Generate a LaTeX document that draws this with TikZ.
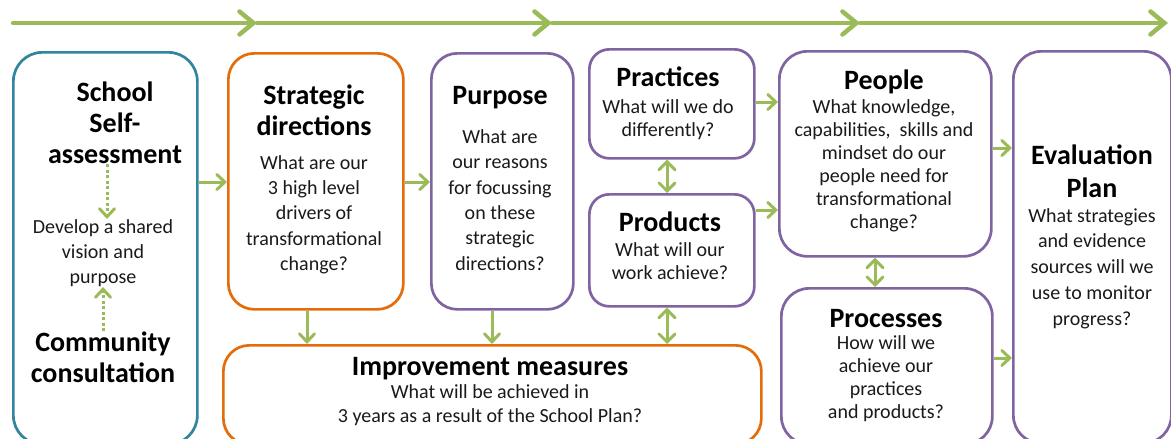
\documentclass[tikz,border=0pt]{standalone}
\usepackage{fontspec}
\setmainfont{Carlito}
\usetikzlibrary{arrows.meta}
\definecolor{tealc}{HTML}{31859C}
\definecolor{orangec}{HTML}{E46C0A}
\definecolor{purplec}{HTML}{8064A2}
\definecolor{grn}{HTML}{9BBB59}
\definecolor{txt}{HTML}{1A1A1A}
\tikzset{
  box/.style={draw, line width=2.7pt, rounded corners=26pt, fill=white, inner sep=0pt},
  ttl/.style={font=\fontsize{28}{31}\selectfont\bfseries, text=black, align=center, inner sep=0pt},
  bdy/.style={font=\fontsize{20}{25.3}\selectfont, text=txt, align=center, inner sep=0pt},
  bdyt/.style={font=\fontsize{20}{23}\selectfont, text=txt, align=center, inner sep=0pt},
  arr/.style={draw=grn, line width=3pt, -{Straight Barb[length=8pt,width=15pt,line width=3pt,line cap=round]}},
  darr/.style={draw=grn, line width=3pt, {Straight Barb[length=8pt,width=16pt,line width=3pt,line cap=round]}-{Straight Barb[length=8pt,width=16pt,line width=3pt,line cap=round]}},
  dotarr/.style={draw=grn, line width=3pt, dash pattern=on 3pt off 2.5pt, -{Straight Barb[length=8pt,width=15pt,line width=3pt,line cap=round]}},
  toparr/.style={draw=grn, line width=4.5pt, line cap=round, -{Straight Barb[length=14pt,width=23pt,line width=4.5pt,line cap=round]}},
}
\begin{document}
\begin{tikzpicture}[x=1pt,y=-1pt]
\useasboundingbox (0,0) rectangle (1171,439);
\clip (0,0) rectangle (1171,439);
\fill[white] (0,0) rectangle (1171,439);

% top timeline
\coordinate (t0) at (13,23);
\coordinate (t1) at (257,23);
\coordinate (t2) at (552,23);
\coordinate (t3) at (860,23);
\coordinate (t4) at (1168,23);
\draw[toparr] (t0) -- (t1);
\draw[toparr] (t1) -- (t2);
\draw[toparr] (t2) -- (t3);
\draw[toparr] (t3) -- (t4);

% boxes
\node[box, draw=tealc, rounded corners=29pt, minimum width=184pt, minimum height=392pt, anchor=north west] (ssa) at (12,51) {};
\node[box, draw=orangec, minimum width=175pt, minimum height=256pt, anchor=north west] (strat) at (227,52) {};
\node[box, draw=purplec, minimum width=142pt, minimum height=256pt, anchor=north west] (purp) at (430,52) {};
\node[box, draw=purplec, rounded corners=20pt, minimum width=165pt, minimum height=109pt, anchor=north west] (prac) at (588,48) {};
\node[box, draw=purplec, rounded corners=20pt, minimum width=165pt, minimum height=112pt, anchor=north west] (prod) at (588,193) {};
\node[box, draw=purplec, rounded corners=28pt, minimum width=212pt, minimum height=205pt, anchor=north west] (ppl) at (778,50) {};
\node[box, draw=purplec, rounded corners=28pt, minimum width=211pt, minimum height=156pt, anchor=north west] (proc) at (780,287) {};
\node[box, draw=purplec, rounded corners=28pt, minimum width=158pt, minimum height=392pt, anchor=north west] (eval) at (1012,50) {};
\node[box, draw=orangec, minimum width=538pt, minimum height=99pt, anchor=north west] (impr) at (222,344) {};

% texts: left box
\node[ttl] (ssaT) at (115,123) {School\\Self-\\assessment};
\node[bdy] (ssaB) at (103,253) {Develop a shared\\vision and\\purpose};
\node[ttl] (ssaC) at (103,357) {Community\\consultation};
\draw[dotarr] (ssaT.south -| 107,0) -- (ssaB.north -| 107,0);
\draw[dotarr] (ssaC.north -| 103,0) -- (ssaB.south -| 103,0);

\node[ttl] (stratT) at (314,110.5) {Strategic\\directions};
\node[bdy] (stratB) at (314,214.5) {What are our\\3 high level\\drivers of\\transformational\\change?};

\node[ttl] (purpT) at (500,98) {Purpose};
\node[bdy] (purpB) at (500,200) {What are\\our reasons\\for focussing\\on these\\strategic\\directions?};

\node[ttl] (pracT) at (668,77) {Practices};
\node[bdyt] (pracB) at (668,120) {What will we do\\differently?};

\node[ttl] (prodT) at (670,222) {Products};
\node[bdyt] (prodB) at (670,261.5) {What will our\\work achieve?};

\node[ttl] (pplT) at (884,82) {People};
\node[bdyt] (pplB) at (884,165.5) {What knowledge,\\capabilities,\ \ skills and\\mindset do our\\people need for\\transformational\\change?};

\node[ttl] (procT) at (886,319) {Processes};
\node[bdyt] (procB) at (886,378.5) {How will we\\achieve our\\practices\\and products?};

\node[ttl, font=\fontsize{28}{33}\selectfont\bfseries] (evalT) at (1092,171.5) {Evaluation\\Plan};
\node[bdy, font=\fontsize{20}{25.8}\selectfont] (evalB) at (1092,268.5) {What strategies\\and evidence\\sources will we\\use to monitor\\progress?};

\node[ttl] (imprT) at (490,369) {Improvement measures};
\node[bdyt, font=\fontsize{20}{24}\selectfont] (imprB) at (490,405) {What will be achieved in\\3 years as a result of the School Plan?};

% connectors
\draw[arr] (ssa.east |- 0,182) -- (strat.west |- 0,182);
\draw[arr] (strat.east |- 0,182) -- (purp.west |- 0,182);
\draw[arr] (prac.east |- 0,102) -- (ppl.west |- 0,102);
\draw[arr] (prod.east |- 0,210) -- (ppl.west |- 0,210);
\draw[arr] (ppl.east |- 0,148) -- (eval.west |- 0,148);
\draw[arr] (proc.east |- 0,358) -- (eval.west |- 0,358);
\draw[darr] (prac.south -| 667,0) -- (prod.north -| 667,0);
\draw[darr] (prod.south -| 667,0) -- (impr.north -| 667,0);
\draw[darr] (ppl.south -| 875,0) -- (proc.north -| 875,0);
\draw[arr] (strat.south -| 307,0) -- (impr.north -| 307,0);
\draw[arr] (purp.south -| 492,0) -- (impr.north -| 492,0);
\end{tikzpicture}
\end{document}
